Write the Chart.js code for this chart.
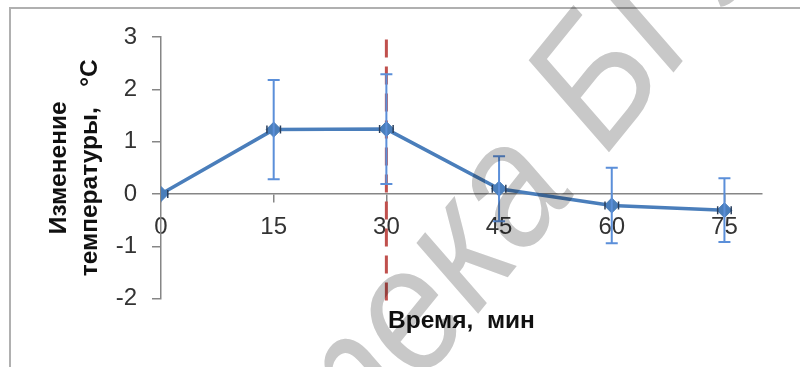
<!DOCTYPE html>
<html>
<head>
<meta charset="utf-8">
<script src="https://cdn.jsdelivr.net/npm/chart.js@4/dist/chart.umd.min.js"></script>
<style>
  html, body { margin: 0; padding: 0; background: #ffffff; }
  #wrap { width: 800px; height: 367px; }
</style>
</head>
<body>
<div id="wrap"><canvas id="c" width="800" height="367"></canvas></div>
<script>
// Time after exposure, minutes
const minutes = [0, 15, 30, 45, 60, 75];
// Mean temperature change, °C
const tempChange = [0, 1.23, 1.24, 0.10, -0.22, -0.31];
// Spread of the temperature change (±), °C
const tempErr = [0, 0.95, 1.05, 0.62, 0.72, 0.61];
// Spread of the time reading (±), minutes
const timeErr = [0.9, 0.9, 0.9, 0.9, 0.9, 0.9];

const xTicks = [0, 15, 30, 45, 60, 75];
const yTicks = [-2, -1, 0, 1, 2, 3];

// Vertical reference line at the end of exposure
const markerTime = 30;
const markerSpan = [2.95, -2.08];

const stampText = 'Библиотека БГУ';
const stampLead = 'Библиотека ';

const AXIS_GREY = '#868686';
const TICK_FONT = { family: 'Liberation Sans, Arial, sans-serif', size: 24 };
const TITLE_FONT = { family: 'Liberation Sans, Arial, sans-serif', size: 24.5, weight: 'bold' };

const frame = {
  id: 'frame',
  beforeDraw(chart) {
    const ctx = chart.ctx;
    ctx.save();
    ctx.fillStyle = '#ffffff';
    ctx.fillRect(0, 0, chart.width, chart.height);
    ctx.strokeStyle = '#b0b0b0';
    ctx.lineWidth = 2;
    ctx.strokeRect(10, 8, chart.width + 20, chart.height + 20);
    ctx.restore();
  }
};

const errorBars = {
  id: 'errorBars',
  afterDatasetsDraw(chart) {
    const { ctx, scales: { x, y } } = chart;
    ctx.save();
    // vertical bars
    ctx.strokeStyle = '#5b8fd9';
    ctx.lineWidth = 2;
    minutes.forEach((m, i) => {
      if (!tempErr[i]) return;
      const px = x.getPixelForValue(m);
      const top = y.getPixelForValue(tempChange[i] + tempErr[i]);
      const bot = y.getPixelForValue(tempChange[i] - tempErr[i]);
      ctx.beginPath();
      ctx.moveTo(px, top); ctx.lineTo(px, bot);
      ctx.moveTo(px - 6, top); ctx.lineTo(px + 6, top);
      ctx.moveTo(px - 6, bot); ctx.lineTo(px + 6, bot);
      ctx.stroke();
    });
    // short horizontal bars
    ctx.strokeStyle = '#2a3f5c';
    ctx.lineWidth = 1.5;
    minutes.forEach((m, i) => {
      const py = y.getPixelForValue(tempChange[i]);
      const left = x.getPixelForValue(m - timeErr[i]);
      const right = x.getPixelForValue(m + timeErr[i]);
      ctx.beginPath();
      if (m - timeErr[i] >= 0) { ctx.moveTo(left, py - 4); ctx.lineTo(left, py + 4); }
      ctx.moveTo(right, py - 4); ctx.lineTo(right, py + 4);
      ctx.stroke();
    });
    ctx.restore();
  }
};

// Grey library stamp laid across the plot
const stamp = {
  id: 'stamp',
  afterDraw(chart) {
    const ctx = chart.ctx;
    const layer = document.createElement('canvas');
    layer.width = chart.width;
    layer.height = chart.height;
    const lc = layer.getContext('2d');
    lc.fillStyle = '#c8c8c8';
    lc.font = 'italic 175px "Liberation Sans", Arial, sans-serif';
    const lead = lc.measureText(stampLead).width;
    lc.translate(606, 156);
    lc.rotate(-51 * Math.PI / 180);
    lc.scale(0.9, 1);
    lc.textBaseline = 'alphabetic';
    lc.fillText(stampText, -lead, 0);
    ctx.save();
    ctx.globalCompositeOperation = 'multiply';
    ctx.drawImage(layer, 0, 0);
    ctx.restore();
  }
};

new Chart(document.getElementById('c'), {
  type: 'line',
  data: {
    datasets: [
      {
        label: 'Изменение температуры',
        data: minutes.map((m, i) => ({ x: m, y: tempChange[i] })),
        borderColor: '#4a7ebb',
        backgroundColor: '#4a7ebb',
        borderWidth: 3.5,
        pointStyle: 'rectRot',
        pointRadius: 7.5,
        pointBorderWidth: 1,
        pointBackgroundColor: '#4a7ebb',
        pointBorderColor: '#4a7ebb',
        tension: 0,
        order: 0
      },
      {
        label: 'Окончание воздействия',
        data: markerSpan.map(v => ({ x: markerTime, y: v })),
        borderColor: '#c0504d',
        borderWidth: 3,
        borderDash: [18, 9],
        pointRadius: 0,
        clip: false,
        order: 1
      }
    ]
  },
  options: {
    responsive: false,
    animation: false,
    events: [],
    layout: { padding: { left: 44, top: 37, right: 38, bottom: 31 } },
    plugins: { legend: { display: false }, tooltip: { enabled: false } },
    scales: {
      x: {
        type: 'linear',
        position: { y: 0 },
        min: 0,
        max: 80,
        afterBuildTicks: s => { s.ticks = xTicks.map(v => ({ value: v })); },
        grid: { drawOnChartArea: false, drawTicks: true, tickLength: 8, color: AXIS_GREY, lineWidth: 1.5 },
        border: { color: AXIS_GREY, width: 1.5 },
        ticks: { font: TICK_FONT, color: '#333333', padding: 11, maxRotation: 0, autoSkip: false }
      },
      x2: {
        type: 'linear',
        position: 'bottom',
        min: 0,
        max: 80,
        grid: { display: false, drawTicks: false },
        border: { display: false },
        ticks: { display: false },
        title: { display: true, text: 'Время,  мин', font: TITLE_FONT, color: '#111111', padding: { top: 8, bottom: 0 } }
      },
      y: {
        type: 'linear',
        position: 'left',
        min: -2,
        max: 3,
        afterBuildTicks: s => { s.ticks = yTicks.map(v => ({ value: v })); },
        afterFit: s => { s.width = 117; },
        grid: { drawOnChartArea: false, drawTicks: true, tickLength: 9, color: AXIS_GREY, lineWidth: 1.5 },
        border: { color: AXIS_GREY, width: 1.5 },
        ticks: { font: TICK_FONT, color: '#333333', padding: 15 },
        title: {
          display: true,
          text: ['Изменение', 'температуры,   °С'],
          font: Object.assign({ lineHeight: 1.27 }, TITLE_FONT),
          color: '#111111',
          padding: { top: 0, bottom: 0 }
        }
      }
    }
  },
  plugins: [frame, errorBars, stamp]
});
</script>
</body>
</html>
